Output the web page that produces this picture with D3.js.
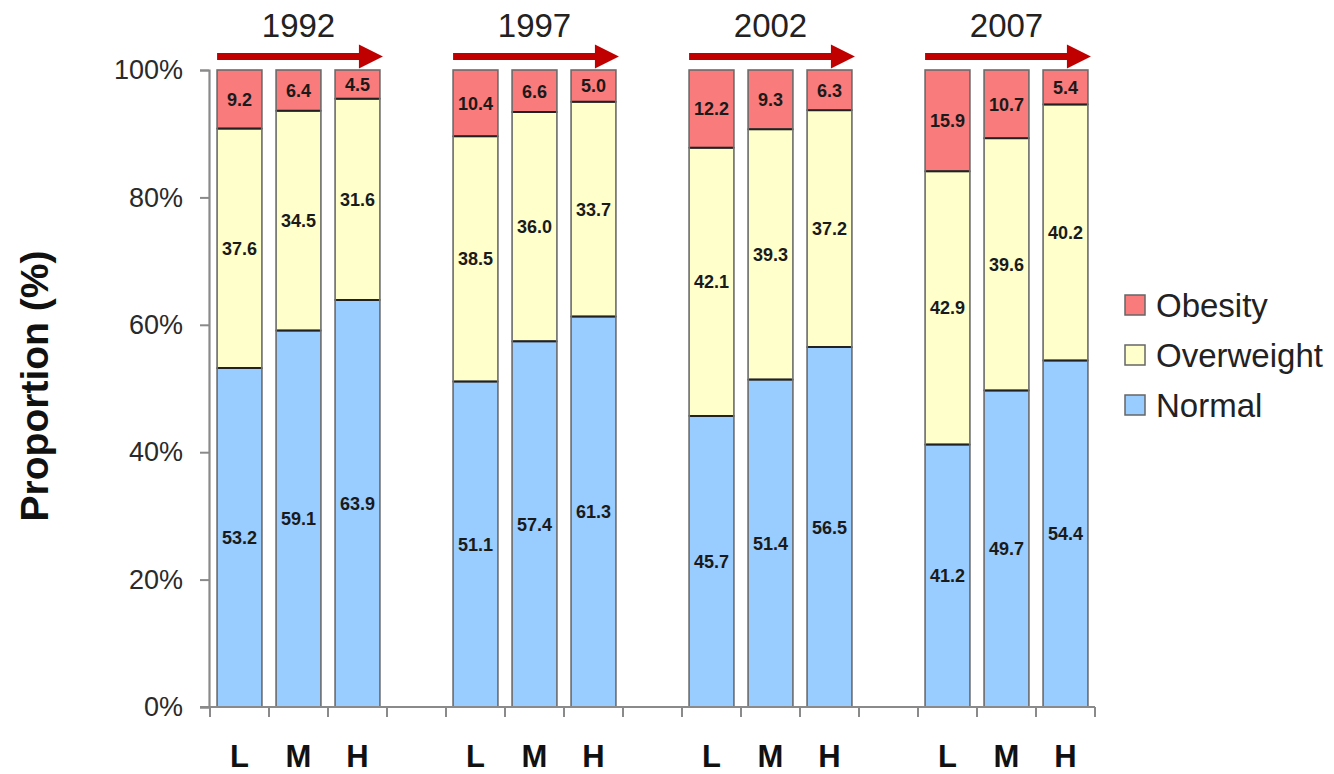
<!DOCTYPE html>
<html>
<head>
<meta charset="utf-8">
<script src="https://cdn.jsdelivr.net/npm/d3@7"></script>
<style>
  html, body { margin: 0; padding: 0; background: #fff; }
  svg { display: block; font-family: "Liberation Sans", Arial, sans-serif; }
</style>
</head>
<body>
<svg id="chart" width="1334" height="774"></svg>
<script>
// ---- data ----
const years = ["1992", "1997", "2002", "2007"];
const levels = ["L", "M", "H"];
const seriesNames = ["Normal", "Overweight", "Obesity"];
const normal =     [53.2, 59.1, 63.9, 51.1, 57.4, 61.3, 45.7, 51.4, 56.5, 41.2, 49.7, 54.4];
const overweight = [37.6, 34.5, 31.6, 38.5, 36.0, 33.7, 42.1, 39.3, 37.2, 42.9, 39.6, 40.2];
const obesity =    [ 9.2,  6.4,  4.5, 10.4,  6.6,  5.0, 12.2,  9.3,  6.3, 15.9, 10.7,  5.4];
const yTicks = [0, 20, 40, 60, 80, 100];

const colors = { Normal: "#99CCFF", Overweight: "#FFFFCC", Obesity: "#F97B7B" };

// build rows
const rows = [];
years.forEach((yr, gi) => {
  levels.forEach((lv, li) => {
    const i = gi * 3 + li;
    rows.push({ key: yr + "-" + lv, year: yr, level: lv,
      Normal: normal[i], Overweight: overweight[i], Obesity: obesity[i] });
  });
});
// slot domain with spacer slots between year groups
const slots = [];
years.forEach((yr, gi) => {
  levels.forEach(lv => slots.push(yr + "-" + lv));
  if (gi < years.length - 1) slots.push("gap-" + gi);
});

const svg = d3.select("#chart");
const x = d3.scaleBand().domain(slots).range([210, 1095]).paddingInner(0.24).paddingOuter(0.12);
const y = d3.scaleLinear().domain([0, 100]).range([707, 70]);

const stack = d3.stack().keys(seriesNames)(rows);

// bars
const g = svg.append("g");
stack.forEach(layer => {
  const name = layer.key;
  g.selectAll(null).data(layer).enter().append("rect")
    .attr("x", d => x(d.data.key))
    .attr("width", x.bandwidth())
    .attr("y", d => y(d[1]))
    .attr("height", d => y(d[0]) - y(d[1]))
    .attr("fill", colors[name])
    .attr("stroke", "#6b6b6b")
    .attr("stroke-width", 1.6);
});
// dark separators between segments
["Normal", "Overweight"].forEach((name, si) => {
  g.selectAll(null).data(stack[si]).enter().append("line")
    .attr("x1", d => x(d.data.key) + 1)
    .attr("x2", d => x(d.data.key) + x.bandwidth() - 1)
    .attr("y1", d => y(d[1]))
    .attr("y2", d => y(d[1]))
    .attr("stroke", "#222")
    .attr("stroke-width", 2);
});
// value labels
stack.forEach(layer => {
  g.selectAll(null).data(layer).enter().append("text")
    .attr("x", d => x(d.data.key) + x.bandwidth() / 2)
    .attr("y", d => (y(d[0]) + y(d[1])) / 2)
    .attr("dy", "0.36em")
    .attr("text-anchor", "middle")
    .attr("font-size", 18)
    .attr("font-weight", "bold")
    .attr("fill", "#1a1a1a")
    .text(d => d.data[layer.key].toFixed(1));
});

// y axis
const yAxis = d3.axisLeft(y).tickValues(yTicks).tickFormat(d => d + "%").tickSize(9).tickPadding(17);
const ya = svg.append("g").attr("transform", "translate(209,0)").call(yAxis);
ya.select(".domain").attr("stroke", "#8a8a8a").attr("stroke-width", 2.2);
ya.selectAll(".tick line").attr("stroke", "#8a8a8a").attr("stroke-width", 2);
ya.selectAll(".tick text").attr("font-size", 27).attr("fill", "#2a2a2a")
  .attr("font-family", "Liberation Sans, Arial, sans-serif");

// x axis: line with ticks at slot boundaries
const xa = svg.append("g");
xa.append("line").attr("x1", 200).attr("x2", x.range()[1])
  .attr("y1", y(0)).attr("y2", y(0)).attr("stroke", "#8a8a8a").attr("stroke-width", 2.2);
const bounds = slots.map(s => x(s) - x.step() * x.paddingInner() / 2);
bounds.push(x.range()[1]);
xa.selectAll(null).data(bounds).enter().append("line")
  .attr("x1", d => d).attr("x2", d => d)
  .attr("y1", y(0)).attr("y2", y(0) + 10)
  .attr("stroke", "#8a8a8a").attr("stroke-width", 2);
// level labels
xa.selectAll(null).data(rows).enter().append("text")
  .attr("x", d => x(d.key) + x.bandwidth() / 2)
  .attr("y", 767)
  .attr("text-anchor", "middle")
  .attr("font-size", 31)
  .attr("font-weight", "bold")
  .attr("fill", "#111")
  .text(d => d.level);

// year headers and arrows
years.forEach(yr => {
  const x0 = x(yr + "-L");
  const x1 = x(yr + "-H") + x.bandwidth() + 3;
  const xm = x(yr + "-M") + x.bandwidth() / 2;
  svg.append("text").attr("x", xm).attr("y", 37).attr("text-anchor", "middle")
    .attr("font-size", 33).attr("fill", "#222").text(yr);
  const cy = 56.5;
  const path = d3.path();
  path.moveTo(x0, cy - 3.5);
  path.lineTo(x1 - 24, cy - 3.5);
  path.lineTo(x1 - 24, cy - 12);
  path.lineTo(x1, cy);
  path.lineTo(x1 - 24, cy + 12);
  path.lineTo(x1 - 24, cy + 3.5);
  path.lineTo(x0, cy + 3.5);
  path.closePath();
  svg.append("path").attr("d", path.toString()).attr("fill", "#C00000");
});

// y axis title
svg.append("text")
  .attr("transform", "translate(48,386) rotate(-90)")
  .attr("text-anchor", "middle")
  .attr("font-size", 39)
  .attr("font-weight", "bold")
  .attr("fill", "#111")
  .text("Proportion (%)");

// legend
const legendItems = ["Obesity", "Overweight", "Normal"];
const lg = svg.append("g").attr("transform", "translate(1125,305)");
legendItems.forEach((name, i) => {
  const row = lg.append("g").attr("transform", `translate(0,${i * 50})`);
  row.append("rect").attr("x", 0).attr("y", -10).attr("width", 20).attr("height", 20)
    .attr("fill", colors[name]).attr("stroke", "#666").attr("stroke-width", 1.5);
  row.append("text").attr("x", 31).attr("y", 0).attr("dy", "0.36em")
    .attr("font-size", 33).attr("fill", "#222").text(name);
});
</script>
</body>
</html>
